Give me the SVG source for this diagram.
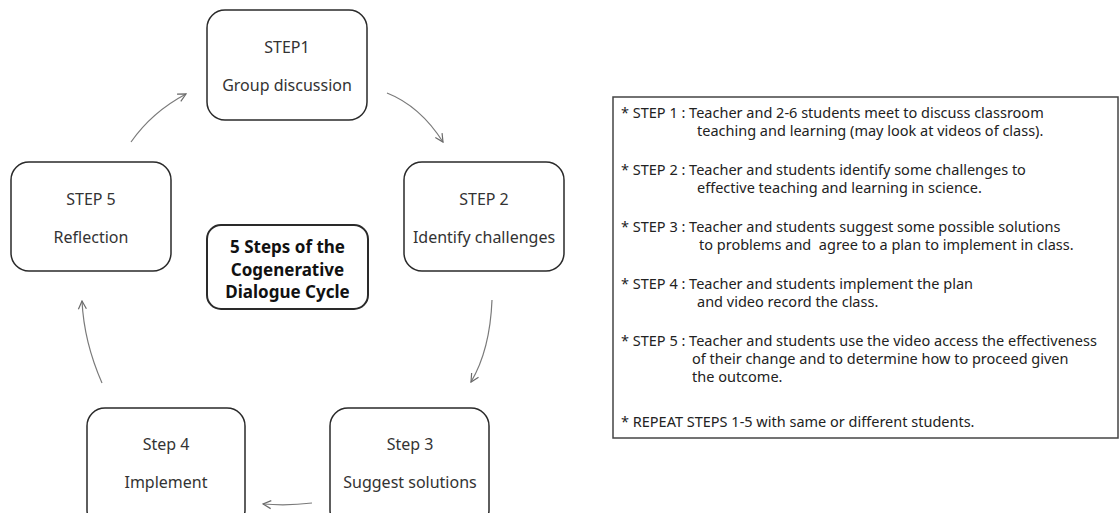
<svg xmlns="http://www.w3.org/2000/svg" width="1120" height="513" viewBox="0 0 1120 513">
  <style>
    .box { fill: #ffffff; stroke: #2a2a2a; stroke-width: 1.5; }
    .hub { fill: #ffffff; stroke: #2a2a2a; stroke-width: 2; }
    .lbl { font-family: "Noto Sans", "Liberation Sans", sans-serif; font-size: 16px; fill: #333333; text-anchor: middle; }
    .hubtxt { font-family: "Noto Sans", "Liberation Sans", sans-serif; font-size: 17px; font-weight: bold; fill: #111111; text-anchor: middle; }
    .link { fill: none; stroke: #7a7a7a; stroke-width: 1.2; marker-end: url(#chev); }
    .panel { fill: #ffffff; stroke: #444444; stroke-width: 1.5; }
    .note { font-family: "Noto Sans", "Liberation Sans", sans-serif; font-size: 14.5px; fill: #222222; white-space: pre; }
  </style>
  <defs>
    <marker id="chev" viewBox="0 0 10 10" refX="9" refY="5" markerWidth="10" markerHeight="10" markerUnits="userSpaceOnUse" orient="auto">
      <path d="M1,1 L9,5 L1,9" fill="none" stroke="#6a6a6a" stroke-width="1.2"/>
    </marker>
  </defs>

  <rect width="1120" height="513" fill="#ffffff"/>

  <!-- cycle steps -->
  <g id="step1">
    <rect class="box" x="207" y="10" width="160" height="110" rx="18"/>
    <text class="lbl" x="287" y="53">STEP1</text>
    <text class="lbl" x="287" y="91">Group discussion</text>
  </g>
  <g id="step2">
    <rect class="box" x="404" y="162" width="160" height="109" rx="18"/>
    <text class="lbl" x="484" y="205">STEP 2</text>
    <text class="lbl" x="484" y="243">Identify challenges</text>
  </g>
  <g id="step3">
    <rect class="box" x="330" y="408" width="159" height="120" rx="18"/>
    <text class="lbl" x="410" y="450">Step 3</text>
    <text class="lbl" x="410" y="488">Suggest solutions</text>
  </g>
  <g id="step4">
    <rect class="box" x="87" y="408" width="158" height="120" rx="18"/>
    <text class="lbl" x="166" y="450">Step 4</text>
    <text class="lbl" x="166" y="488">Implement</text>
  </g>
  <g id="step5">
    <rect class="box" x="11" y="162" width="160" height="109" rx="18"/>
    <text class="lbl" x="91" y="205">STEP 5</text>
    <text class="lbl" x="91" y="243">Reflection</text>
  </g>

  <!-- title in the middle of the cycle -->
  <g id="title">
    <rect class="hub" x="207" y="225" width="161" height="84" rx="14"/>
    <text class="hubtxt" x="287.5" y="253">5 Steps of the</text>
    <text class="hubtxt" x="287.5" y="276">Cogenerative</text>
    <text class="hubtxt" x="287.5" y="298">Dialogue Cycle</text>
  </g>

  <!-- cycle arrows -->
  <g id="connectors">
    <path class="link" d="M387,93 Q420,106 443,142"/>
    <path class="link" d="M492,300 Q490,350 471,382"/>
    <path class="link" d="M312,503 Q288,506 263,504"/>
    <path class="link" d="M102,383 Q84,342 82,301"/>
    <path class="link" d="M131,142 Q152,112 186,94"/>
  </g>

  <!-- description panel -->
  <g id="notes">
    <rect class="panel" x="613" y="97" width="505" height="341"/>
    <text class="note" x="621" y="118">* STEP 1 : Teacher and 2-6 students meet to discuss classroom</text>
    <text class="note" x="697" y="136">teaching and learning (may look at videos of class).</text>
    <text class="note" x="621" y="175">* STEP 2 : Teacher and students identify some challenges to</text>
    <text class="note" x="697" y="193">effective teaching and learning in science.</text>
    <text class="note" x="621" y="232">* STEP 3 : Teacher and students suggest some possible solutions</text>
    <text class="note" x="699" y="250">to problems and  agree to a plan to implement in class.</text>
    <text class="note" x="621" y="289">* STEP 4 : Teacher and students implement the plan</text>
    <text class="note" x="697" y="307">and video record the class.</text>
    <text class="note" x="621" y="346">* STEP 5 : Teacher and students use the video access the effectiveness</text>
    <text class="note" x="692" y="364">of their change and to determine how to proceed given</text>
    <text class="note" x="692" y="382">the outcome.</text>
    <text class="note" x="621" y="427">* REPEAT STEPS 1-5 with same or different students.</text>
  </g>
</svg>
